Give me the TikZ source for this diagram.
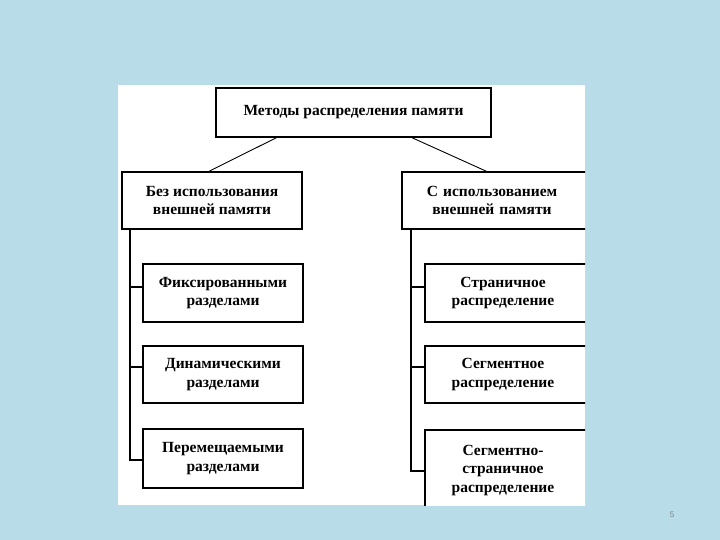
\documentclass[tikz,border=0pt]{standalone}
\usepackage{fontspec}
\setmainfont{Liberation Serif}
\setsansfont{Liberation Sans}
\definecolor{bgblue}{RGB}{185,221,232}
\definecolor{pagegray}{RGB}{120,130,140}
\begin{document}
\begin{tikzpicture}[x=1pt,y=-1pt,
  box/.style={draw=black, line width=1.6pt, fill=white, inner sep=0pt, align=center,
    font=\fontsize{15.5}{18.5}\selectfont\bfseries},
  link/.style={draw=black, line width=0.9pt},
  trunk/.style={draw=black, line width=1.5pt}]
\fill[bgblue] (0,0) rectangle (720,540);
\useasboundingbox (0,0) rectangle (720,540);
\fill[white] (118,85) rectangle (585,505);
\begin{scope}
\clip (118,85) rectangle (585,505);
\node[box, minimum width=275pt, minimum height=49pt] (top) at (353.5,112.5) {Методы распределения памяти};
\node[box, minimum width=180pt, minimum height=57pt] (L) at (212,200.5) {Без использования\\внешней памяти};
\node[box, minimum width=200pt, minimum height=57pt, text width=190pt] (R) at (502,200.5) {\hspace*{-20pt}С использованием\\\hspace*{-20pt}внешней памяти};
\node[box, minimum width=160pt, minimum height=58pt] (L1) at (223,293) {Фиксированными\\разделами};
\node[box, minimum width=160pt, minimum height=57pt] (L2) at (223,374.5) {Динамическими\\разделами};
\node[box, minimum width=160pt, minimum height=59pt] (L3) at (223,458.5) {Перемещаемыми\\разделами};
\node[box, minimum width=200pt, minimum height=58pt, text width=190pt] (R1) at (525,293) {\hspace*{-44pt}Страничное\\\hspace*{-44pt}распределение};
\node[box, minimum width=200pt, minimum height=57pt, text width=190pt] (R2) at (525,374.5) {\hspace*{-44pt}Сегментное\\\hspace*{-44pt}распределение};
\node[box, minimum width=200pt, minimum height=90pt, text width=190pt, anchor=north] (R3) at (525,429) {\\[-17pt]\hspace*{-44pt}Сегментно-\\\hspace*{-44pt}страничное\\\hspace*{-44pt}распределение\\[15pt]};
\draw[link] ([xshift=61pt]top.south west) -- ([xshift=88pt]L.north west);
\draw[link] ([xshift=197pt]top.south west) -- ([xshift=85pt]R.north west);
\coordinate (lt) at ([xshift=9pt]L.south west);
\coordinate (rt) at ([xshift=10pt]R.south west);
\draw[trunk] (lt) |- ([yshift=6pt]L1.west);
\draw[trunk] (lt) |- ([yshift=7.5pt]L2.west);
\draw[trunk] (lt) |- ([yshift=-1.5pt]L3.west);
\draw[trunk] (rt) |- ([yshift=6pt]R1.west);
\draw[trunk] (rt) |- ([yshift=7.5pt]R2.west);
\draw[trunk] (rt) |- ([yshift=-42pt]R3.north west);
\end{scope}
\node[font=\sffamily\fontsize{8}{9}\selectfont, text=pagegray] (pg) at (672,515) {5};
\end{tikzpicture}
\end{document}
